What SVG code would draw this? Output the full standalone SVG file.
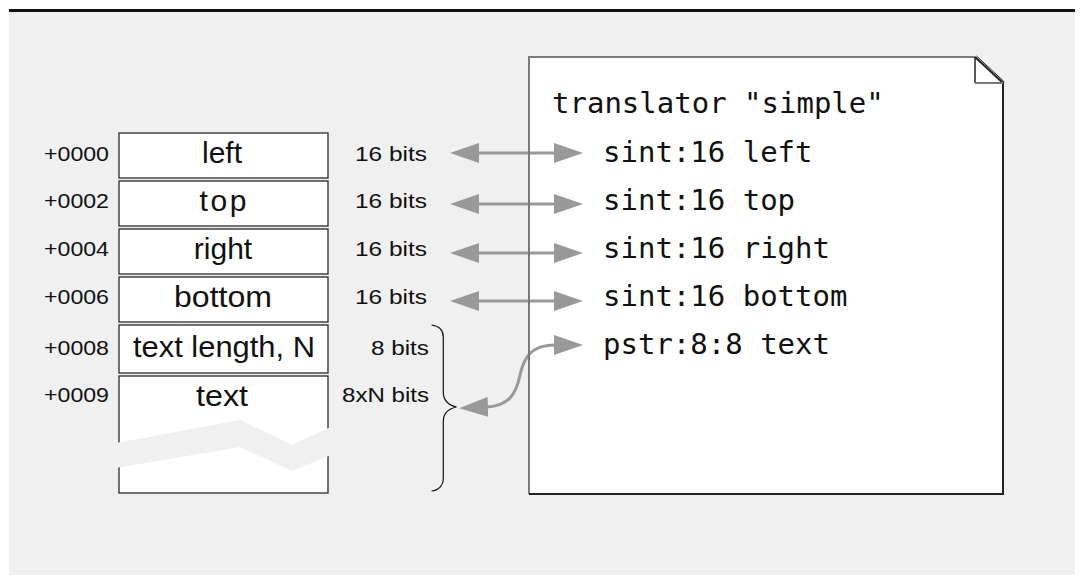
<svg xmlns="http://www.w3.org/2000/svg" width="1084" height="584" viewBox="0 0 1084 584">
  <style>
    .bg { fill: #eff0ef; }
    .cell { fill: #ffffff; stroke: #2a2a2a; stroke-width: 1.3; }
    .off { font-family: "Liberation Sans", Arial, sans-serif; font-size: 19.5px; fill: #111; text-anchor: end; }
    .lbl { font-family: "Liberation Sans", Arial, sans-serif; font-size: 30px; fill: #111; text-anchor: middle; }
    .bits { font-family: "Liberation Sans", Arial, sans-serif; font-size: 19.5px; fill: #111; text-anchor: end; }
    .code { font-family: "DejaVu Sans Mono", "Liberation Mono", monospace; font-size: 29px; fill: #111; }
    .wire { fill: none; stroke: #999999; stroke-width: 3; }
    .head { fill: #999999; }
    .brace { fill: none; stroke: #111; stroke-width: 1.2; }
  </style>
  <defs>
    <marker id="tip" viewBox="0 0 29 20" refX="1" refY="10" markerWidth="29" markerHeight="20" markerUnits="userSpaceOnUse" orient="auto-start-reverse">
      <path class="head" d="M0,0 L29,10 L0,20 Z"/>
    </marker>
  </defs>

  <!-- canvas -->
  <rect x="0" y="0" width="1084" height="584" fill="#ffffff"/>
  <rect class="bg" x="9" y="12" width="1066" height="563"/>
  <rect x="9" y="9" width="1066" height="3" fill="#111"/>

  <!-- record layout -->
  <g id="field-left">
    <rect class="cell" x="119" y="133" width="209" height="45"/>
    <text class="off" x="109" y="161" textLength="65" lengthAdjust="spacingAndGlyphs">+0000</text>
    <text class="lbl" x="222" y="163">left</text>
    <text class="bits" x="427" y="161" textLength="72" lengthAdjust="spacingAndGlyphs">16 bits</text>
  </g>
  <g id="field-top">
    <rect class="cell" x="119" y="181" width="209" height="45"/>
    <text class="off" x="109" y="208" textLength="65" lengthAdjust="spacingAndGlyphs">+0002</text>
    <text class="lbl" x="223" y="211" textLength="47" lengthAdjust="spacing">top</text>
    <text class="bits" x="427" y="208" textLength="72" lengthAdjust="spacingAndGlyphs">16 bits</text>
  </g>
  <g id="field-right">
    <rect class="cell" x="119" y="229" width="209" height="45"/>
    <text class="off" x="109" y="256" textLength="65" lengthAdjust="spacingAndGlyphs">+0004</text>
    <text class="lbl" x="223" y="259">right</text>
    <text class="bits" x="427" y="256" textLength="72" lengthAdjust="spacingAndGlyphs">16 bits</text>
  </g>
  <g id="field-bottom">
    <rect class="cell" x="119" y="277" width="209" height="45"/>
    <text class="off" x="109" y="304" textLength="65" lengthAdjust="spacingAndGlyphs">+0006</text>
    <text class="lbl" x="223" y="307" textLength="98" lengthAdjust="spacingAndGlyphs">bottom</text>
    <text class="bits" x="427" y="304" textLength="72" lengthAdjust="spacingAndGlyphs">16 bits</text>
  </g>
  <g id="field-length">
    <rect class="cell" x="119" y="325" width="209" height="48"/>
    <text class="off" x="109" y="355" textLength="65" lengthAdjust="spacingAndGlyphs">+0008</text>
    <text class="lbl" x="224" y="357" textLength="182" lengthAdjust="spacingAndGlyphs">text length, N</text>
    <text class="bits" x="429" y="355" textLength="58" lengthAdjust="spacingAndGlyphs">8 bits</text>
  </g>
  <g id="field-text">
    <rect class="cell" x="119" y="376" width="209" height="117"/>
    <!-- torn band marking the variable-length run -->
    <polygon class="bg" points="116,443 240,420 292,445 331,427 331,455 292,471 240,447 116,468"/>
    <text class="off" x="109" y="402" textLength="65" lengthAdjust="spacingAndGlyphs">+0009</text>
    <text class="lbl" x="222" y="406" textLength="52" lengthAdjust="spacingAndGlyphs">text</text>
    <text class="bits" x="429" y="402" textLength="87" lengthAdjust="spacingAndGlyphs">8xN bits</text>
  </g>
  <g id="pstr-brace">
    <path class="brace" d="M431.5,325 C439,326 443.3,330 443.3,337 L443.3,392 C443.3,400 448,405 456.5,407 C448,409 443.3,413 443.3,421 L443.3,478 C443.3,485 439,490 431.5,491"/>
  </g>

  <!-- translator sheet -->
  <g id="translator">
    <path d="M529,57 L975,57 L1003,83 L1003,494 L529,494 Z" fill="#ffffff"/>
    <text class="code" x="552" y="113">translator "simple"</text>
    <text class="code" x="603" y="162">sint:16 left</text>
    <text class="code" x="603" y="210">sint:16 top</text>
    <text class="code" x="603" y="258">sint:16 right</text>
    <text class="code" x="603" y="306">sint:16 bottom</text>
    <text class="code" x="603" y="354">pstr:8:8 text</text>
  </g>

  <!-- field-to-declaration links -->
  <g id="connectors">
    <line class="wire" x1="478" y1="153" x2="555" y2="153" marker-start="url(#tip)" marker-end="url(#tip)"/>
    <line class="wire" x1="478" y1="204" x2="555" y2="204" marker-start="url(#tip)" marker-end="url(#tip)"/>
    <line class="wire" x1="478" y1="253" x2="555" y2="253" marker-start="url(#tip)" marker-end="url(#tip)"/>
    <line class="wire" x1="478" y1="301" x2="555" y2="301" marker-start="url(#tip)" marker-end="url(#tip)"/>
    <path class="wire" d="M487,407 C508,406 516,395 520,375 C525,352 536,345 555,345" marker-start="url(#tip)" marker-end="url(#tip)"/>
  </g>

  <!-- sheet outline with folded corner, drawn over the links -->
  <g id="translator-edge" fill="none">
    <path d="M529,494 L529,57 L975,57" stroke="#7a7a7a" stroke-width="2"/>
    <path d="M975,57 L1003,83 L1003,494 L529,494" stroke="#222" stroke-width="2"/>
    <path d="M976.5,56 L1004.5,82" stroke="#222" stroke-width="1"/>
    <path d="M975,57 L975,83" stroke="#222" stroke-width="1.5"/>
    <path d="M975,83 L1003,83" stroke="#7a7a7a" stroke-width="2"/>
  </g>
</svg>
